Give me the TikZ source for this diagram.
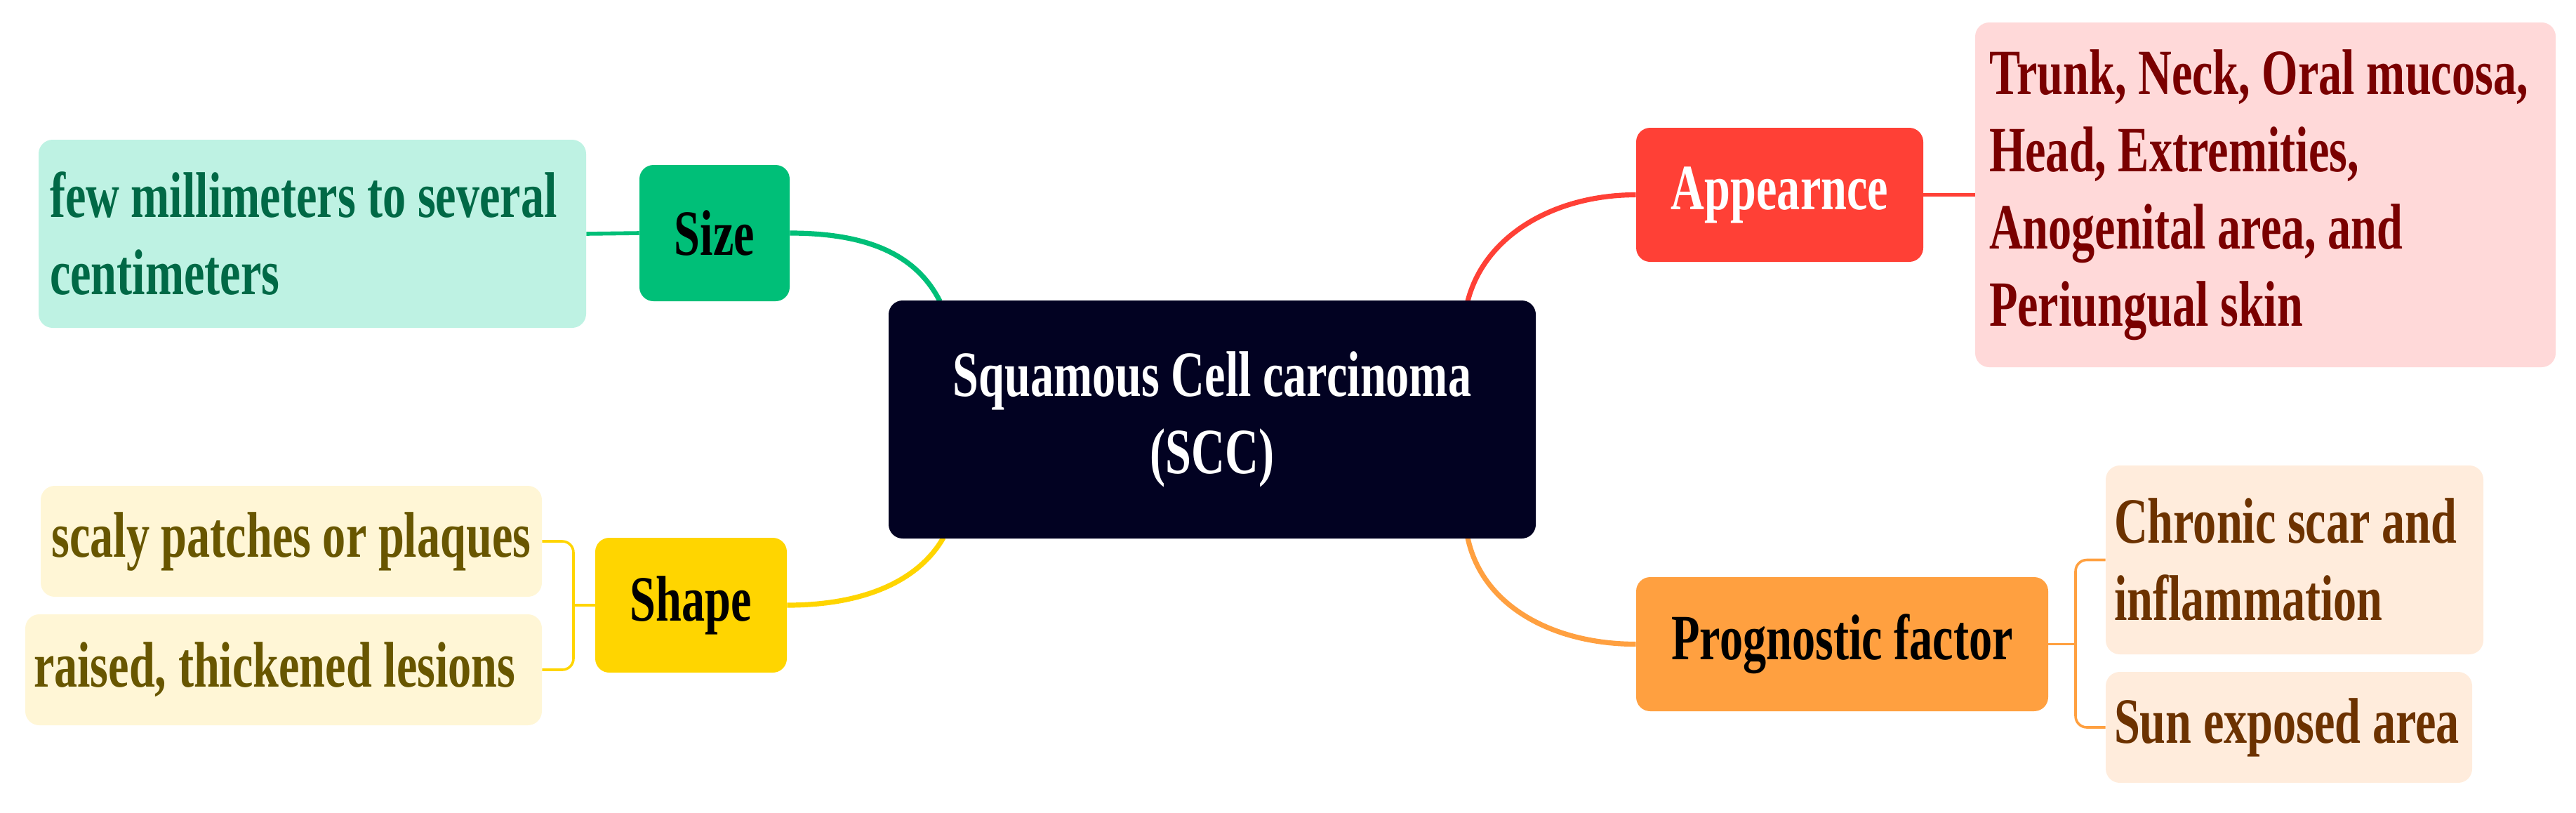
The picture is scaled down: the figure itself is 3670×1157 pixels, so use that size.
\documentclass[tikz,border=0pt]{standalone}
\usepackage{fontspec}
\newfontfamily\mapfont{Liberation Serif Bold}[FakeStretch=0.72]
\usetikzlibrary{backgrounds}
\definecolor{navy}{RGB}{2,2,34}
\definecolor{grn}{RGB}{0,191,120}
\definecolor{grnlt}{RGB}{190,242,227}
\definecolor{grntx}{RGB}{0,105,70}
\definecolor{ylw}{RGB}{255,213,0}
\definecolor{ylwlt}{RGB}{255,246,214}
\definecolor{ylwtx}{RGB}{104,86,0}
\definecolor{rd}{RGB}{255,64,54}
\definecolor{rdlt}{RGB}{255,217,217}
\definecolor{rdtx}{RGB}{122,0,0}
\definecolor{org}{RGB}{255,160,64}
\definecolor{orglt}{RGB}{255,236,220}
\definecolor{orgtx}{RGB}{108,50,0}
\begin{document}
\begin{tikzpicture}[x=0.5pt,y=-0.5pt,
  txt/.style={font=\mapfont\fontsize{46}{55}\selectfont},
  box/.style={txt, rounded corners=10pt, inner ysep=0pt},
  mainbox/.style={box, fill=navy, text=white, align=center},
  topic/.style={box, inner xsep=0pt, align=center},
  leaf/.style={box, align=left, execute at begin node={\spaceskip=0pt\relax\xspaceskip=0pt\relax}},
  mainline/.style={line width=3.6pt},
  childline/.style={line width=1.8pt, rounded corners=8pt}]
\useasboundingbox (0,0) rectangle (3670,1157);
% central topic
\node[mainbox, minimum width=461pt, minimum height=169.5pt] (scc) at (1727,597.5) {Squamous Cell carcinoma\\(SCC)};
% Size branch
\node[topic, fill=grn, text=black, minimum width=107pt, minimum height=97pt] (size) at (1018,332) {Size};
\node[leaf, fill=grnlt, text=grntx, inner xsep=8pt, text width=374pt, minimum height=134pt] (few) at (445,333) {\mbox{few millimeters to several}\\\mbox{centimeters}};
% Shape branch
\node[topic, fill=ylw, text=black, minimum width=136.5pt, minimum height=96pt] (shape) at (984.5,862) {Shape};
\node[box, fill=ylwlt, text=ylwtx, inner xsep=0pt, minimum width=357pt, minimum height=79pt, align=center] (scaly) at (415,771) {scaly patches or plaques};
\node[leaf, fill=ylwlt, text=ylwtx, inner xsep=6pt, text width=356pt, minimum height=79pt] (raised) at (404,954) {\mbox{raised, thickened lesions}};
% Appearnce branch
\node[topic, fill=rd, text=white, minimum width=204.5pt, minimum height=95.5pt] (app) at (2535.5,277.5) {Appearnce};
\node[leaf, fill=rdlt, text=rdtx, inner xsep=10pt, text width=393.5pt, minimum height=245.5pt] (trunk) at (3227.5,277.5) {\mbox{Trunk, Neck, Oral mucosa,}\\\mbox{Head, Extremities,}\\\mbox{Anogenital area, and}\\\mbox{Periungual skin}};
% Prognostic branch
\node[topic, fill=org, text=black, minimum width=293.5pt, minimum height=95.5pt] (prog) at (2624.5,917.5) {Prognostic factor};
\node[leaf, fill=orglt, text=orgtx, inner xsep=6pt, text width=257pt, minimum height=134.5pt] (chronic) at (3269,797.5) {\mbox{Chronic scar and}\\\mbox{inflammation}};
\node[leaf, fill=orglt, text=orgtx, inner xsep=6pt, text width=249pt, minimum height=79pt] (sun) at (3261,1036) {\mbox{Sun exposed area}};
% junction points
\coordinate (jSize) at (1339,429);
\coordinate (jApp) at (2091,429);
\coordinate (jShape) at (1344,766);
\coordinate (jProg) at (2091,766);
\coordinate (bS) at (817,862);
\coordinate (bP) at (2957,917.5);
\begin{scope}[on background layer]
\draw[mainline, grn] (size.east) .. controls (1235,332) and (1305,362) .. (jSize);
\draw[mainline, rd] (jApp) .. controls (2115,335) and (2215,277.5) .. (app.west);
\draw[mainline, ylw] (shape.east) .. controls (1235,862) and (1310,825) .. (jShape);
\draw[mainline, org] (jProg) .. controls (2112,865) and (2215,917.5) .. (prog.west);
\draw[line width=2.8pt, grn] (few.east) -- (size.west);
\draw[line width=2.8pt, rd] (app.east) -- (trunk.west);
\draw[childline, ylw] (scaly.east) -| (bS) |- (raised.east);
\draw[childline, ylw] (shape.west) -- (bS);
\draw[childline, org] (chronic.west) -| (bP) |- (sun.west);
\draw[childline, org] (prog.east) -- (bP);
\end{scope}
\end{tikzpicture}
\end{document}
